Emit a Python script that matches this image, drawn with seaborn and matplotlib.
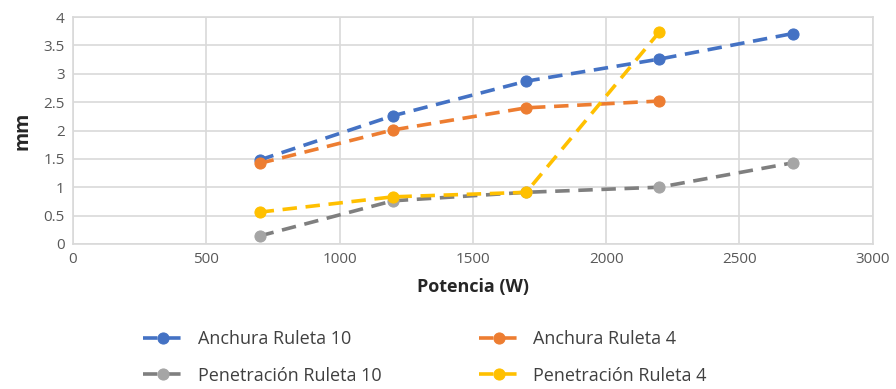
import pandas as pd
import matplotlib.pyplot as plt
import seaborn as sns

potencia_r10 = [700, 1200, 1700, 2200, 2700]
potencia_r4 = [700, 1200, 1700, 2200]
anchura_r10 = [1.48, 2.26, 2.87, 3.26, 3.71]
anchura_r4 = [1.42, 2.01, 2.40, 2.52]
penetracion_r10 = [0.14, 0.76, 0.91, 1.00, 1.43]
penetracion_r4 = [0.56, 0.83, 0.91, 3.74]

series = [
    ("Anchura Ruleta 10", potencia_r10, anchura_r10, "#4472C4", "#4472C4"),
    ("Anchura Ruleta 4", potencia_r4, anchura_r4, "#ED7D31", "#ED7D31"),
    ("Penetración Ruleta 10", potencia_r10, penetracion_r10, "#7F7F7F", "#A5A5A5"),
    ("Penetración Ruleta 4", potencia_r4, penetracion_r4, "#FFC000", "#FFC000"),
]

sns.set_style("white")
plt.rcParams['font.family'] = ['Open Sans', 'DejaVu Sans']

fig, ax = plt.subplots(figsize=(8.96, 3.89), dpi=100)
fig.subplots_adjust(left=0.0815, right=0.974, top=0.956, bottom=0.373)

for name, x, y, line_color, marker_color in series:
    df = pd.DataFrame({"Potencia": x, "mm": y})
    sns.lineplot(data=df, x="Potencia", y="mm", ax=ax, color=line_color,
                 linewidth=2.6, linestyle=(0, (4, 2.4)), marker="o",
                 markersize=8, markerfacecolor=marker_color,
                 markeredgecolor=marker_color, label=name)

ax.set_xlim(0, 3000)
ax.set_ylim(0, 4)
ax.set_xticks(range(0, 3001, 500))
ax.set_yticks([0, 0.5, 1, 1.5, 2, 2.5, 3, 3.5, 4])
ax.set_yticklabels(["0", "0.5", "1", "1.5", "2", "2.5", "3", "3.5", "4"])
ax.grid(True, color="#D9D9D9", linewidth=1.2)
for sp in ax.spines.values():
    sp.set_color("#D9D9D9")
    sp.set_linewidth(1.2)
ax.tick_params(axis="both", length=0, labelsize=11, labelcolor="#595959", pad=6)

ax.set_xlabel("Potencia (W)", fontsize=13, fontweight="bold", color="#262626", labelpad=8)
ax.set_ylabel("mm", fontsize=14, fontweight="bold", color="#262626", labelpad=8)

# orden por filas como en Excel
handles, labels = ax.get_legend_handles_labels()
order = [0, 2, 1, 3]
ax.legend([handles[i] for i in order], [labels[i] for i in order],
          loc="upper center", bbox_to_anchor=(0.44, -0.31), ncol=2, frameon=False,
          fontsize=13, labelcolor="#404040", handlelength=2.2, columnspacing=5.4,
          labelspacing=1.0)

fig.savefig("out.png", dpi=100)
